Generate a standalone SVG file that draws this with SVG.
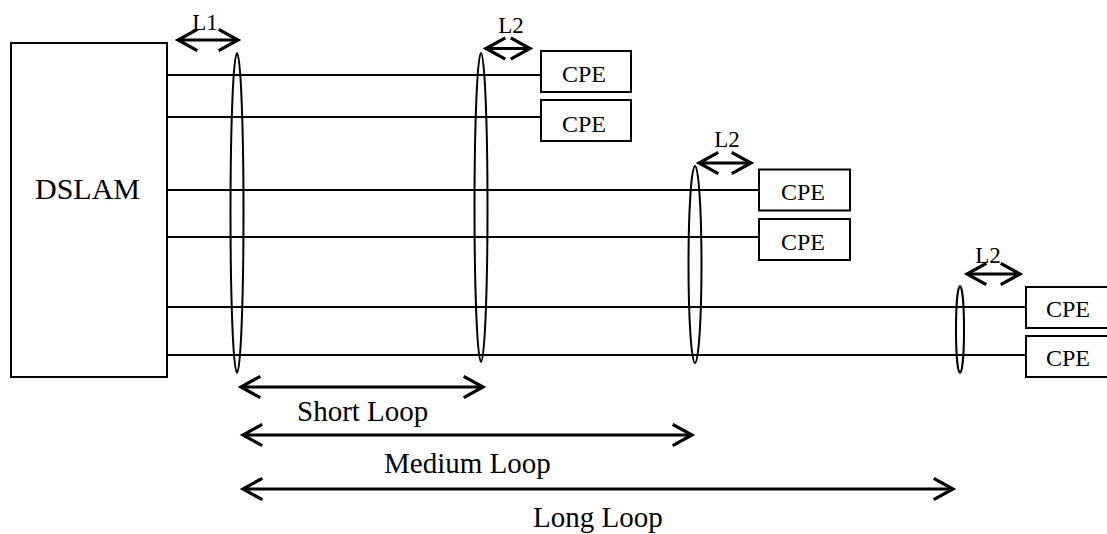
<svg xmlns="http://www.w3.org/2000/svg" width="1107" height="534" viewBox="0 0 1107 534">
<style>
.box{fill:#fff;stroke:#000;stroke-width:2}
.wire{stroke:#000;stroke-width:2;fill:none}
.ell{fill:none;stroke:#000;stroke-width:2}
.arr{stroke:#000;stroke-width:3;fill:none;marker-start:url(#ah);marker-end:url(#ah)}
.t{font-family:"Liberation Serif","Times New Roman",serif;fill:#000}
</style>
<defs>
<marker id="ah" markerUnits="userSpaceOnUse" markerWidth="30" markerHeight="30" refX="0" refY="0" viewBox="-22 -14 26 28" orient="auto-start-reverse" overflow="visible">
<path d="M-18,-10 L0,0 L-18,10" fill="none" stroke="#000" stroke-width="3"/>
</marker>
</defs>
<rect width="1107" height="534" fill="#fff"/>
<g id="connectors">
<line class="wire" x1="167" y1="75" x2="541" y2="75"/>
<line class="wire" x1="167" y1="117" x2="541" y2="117"/>
<line class="wire" x1="167" y1="190" x2="759" y2="190"/>
<line class="wire" x1="167" y1="237" x2="759" y2="237"/>
<line class="wire" x1="167" y1="307" x2="1026" y2="307"/>
<line class="wire" x1="167" y1="355" x2="1026" y2="355"/>
<ellipse class="ell" cx="237" cy="213" rx="6.5" ry="160"/>
<ellipse class="ell" cx="481" cy="207.5" rx="6.5" ry="154.5"/>
<ellipse class="ell" cx="695" cy="264.5" rx="6.5" ry="98.5"/>
<ellipse class="ell" cx="960" cy="329.5" rx="4" ry="43.5"/>
<line class="arr" x1="178" y1="40" x2="238" y2="40"/>
<line class="arr" x1="486" y1="48.5" x2="530" y2="48.5"/>
<line class="arr" x1="699" y1="163" x2="751" y2="163"/>
<line class="arr" x1="967" y1="274" x2="1020" y2="274"/>
<line class="arr" x1="241" y1="387" x2="483" y2="387"/>
<line class="arr" x1="243" y1="435" x2="692" y2="435"/>
<line class="arr" x1="243" y1="489" x2="953" y2="489"/>
</g>
<g id="dslam">
<rect class="box" x="11" y="43" width="156" height="334"/>
<text class="t" x="35" y="199" font-size="30">DSLAM</text>
</g>
<g id="cpe1">
<rect class="box" x="541" y="51" width="90" height="41"/>
<text class="t" x="562" y="82" font-size="24">CPE</text>
</g>
<g id="cpe2">
<rect class="box" x="541" y="100" width="90" height="41"/>
<text class="t" x="562" y="131.5" font-size="24">CPE</text>
</g>
<g id="cpe3">
<rect class="box" x="759" y="169.5" width="91" height="41"/>
<text class="t" x="781" y="200" font-size="24">CPE</text>
</g>
<g id="cpe4">
<rect class="box" x="759" y="219" width="91" height="41"/>
<text class="t" x="781" y="249.5" font-size="24">CPE</text>
</g>
<g id="cpe5">
<rect class="box" x="1026" y="287" width="90" height="41"/>
<text class="t" x="1046" y="317" font-size="24">CPE</text>
</g>
<g id="cpe6">
<rect class="box" x="1026" y="336" width="90" height="41"/>
<text class="t" x="1046" y="366" font-size="24">CPE</text>
</g>
<g id="labels">
<text class="t" x="205" y="29.5" font-size="23" text-anchor="middle">L1</text>
<text class="t" x="511" y="33" font-size="23" text-anchor="middle">L2</text>
<text class="t" x="727" y="147" font-size="23" text-anchor="middle">L2</text>
<text class="t" x="988" y="263" font-size="23" text-anchor="middle">L2</text>
<text class="t" x="297" y="421" font-size="29">Short Loop</text>
<text class="t" x="384" y="473" font-size="29">Medium Loop</text>
<text class="t" x="533" y="527" font-size="29">Long Loop</text>
</g>
</svg>
